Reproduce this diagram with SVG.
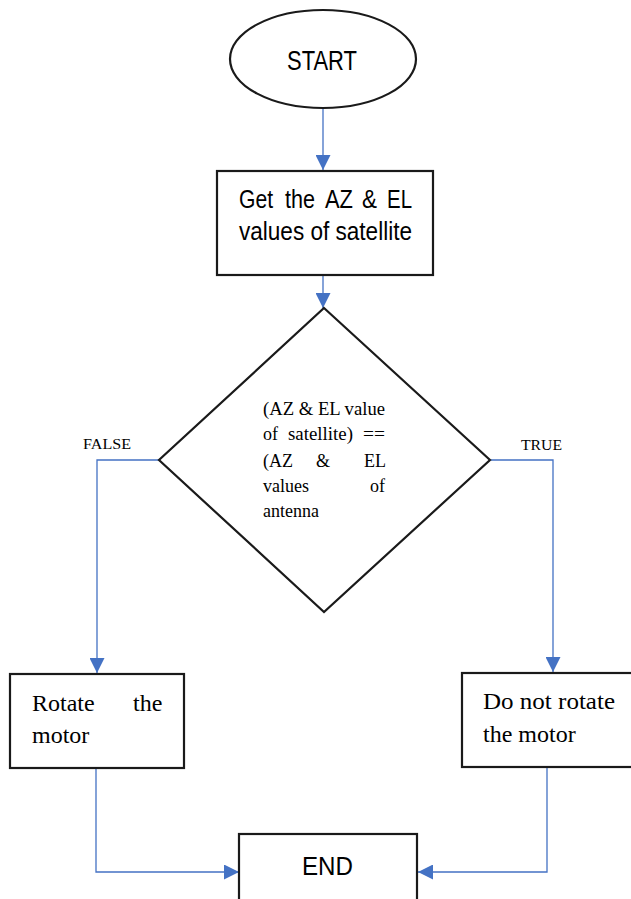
<svg xmlns="http://www.w3.org/2000/svg" width="631" height="899" viewBox="0 0 631 899">
<style>
.shape{fill:#fff;stroke:#1a1a1a;stroke-width:2.2}
.conn{fill:none;stroke:#4472C4;stroke-width:1.3}
.sans{font-family:"Liberation Sans",Arial,sans-serif;fill:#000}
.serif{font-family:"Liberation Serif","Times New Roman",serif;fill:#000}
</style>
<defs>
<marker id="ah" viewBox="0 0 10 10" refX="10" refY="5" markerWidth="15" markerHeight="15" markerUnits="userSpaceOnUse" orient="auto">
<path d="M0,0 L10,5 L0,10 Z" fill="#4472C4"/>
</marker>
</defs>
<rect width="631" height="899" fill="#fff"/>
<g id="connectors">
<line class="conn" x1="323" y1="108" x2="323" y2="170" marker-end="url(#ah)"/>
<line class="conn" x1="323" y1="276" x2="323" y2="308" marker-end="url(#ah)"/>
<polyline class="conn" points="159,460 97,460 97,673" marker-end="url(#ah)"/>
<polyline class="conn" points="491,460 553,460 553,672" marker-end="url(#ah)"/>
<polyline class="conn" points="96,769 96,872 239,872" marker-end="url(#ah)"/>
<polyline class="conn" points="547,768 547,872 418,872" marker-end="url(#ah)"/>
<text class="serif" x="83" y="449" font-size="15" textLength="48" lengthAdjust="spacingAndGlyphs">FALSE</text>
<text class="serif" x="521" y="450" font-size="15" textLength="41" lengthAdjust="spacingAndGlyphs">TRUE</text>
</g>
<g id="start">
<ellipse class="shape" cx="323" cy="59" rx="93" ry="49"/>
<text class="sans" x="287" y="70" font-size="27" textLength="70" lengthAdjust="spacingAndGlyphs">START</text>
</g>
<g id="get-values">
<rect class="shape" x="217" y="171" width="216" height="104"/>
<text class="sans" font-size="25" y="208">
<tspan x="239" textLength="34" lengthAdjust="spacingAndGlyphs">Get</tspan>
<tspan x="285" textLength="30" lengthAdjust="spacingAndGlyphs">the</tspan>
<tspan x="325" textLength="28" lengthAdjust="spacingAndGlyphs">AZ</tspan>
<tspan x="362" textLength="15" lengthAdjust="spacingAndGlyphs">&amp;</tspan>
<tspan x="387" textLength="25" lengthAdjust="spacingAndGlyphs">EL</tspan>
</text>
<text class="sans" x="239" y="240" font-size="25" textLength="173" lengthAdjust="spacingAndGlyphs">values of satellite</text>
</g>
<g id="decision">
<polygon class="shape" points="324,308 490,460 324,612 159,460"/>
<text class="serif" font-size="18" x="263" y="415" textLength="122" lengthAdjust="spacingAndGlyphs">(AZ &amp; EL value</text>
<text class="serif" font-size="18" y="440">
<tspan x="263">of</tspan>
<tspan x="288" textLength="65" lengthAdjust="spacingAndGlyphs">satellite)</tspan>
<tspan x="363" textLength="22" lengthAdjust="spacingAndGlyphs">==</tspan>
</text>
<text class="serif" font-size="18" y="467">
<tspan x="263">(AZ</tspan>
<tspan x="316">&amp;</tspan>
<tspan x="364">EL</tspan>
</text>
<text class="serif" font-size="18" y="492">
<tspan x="263">values</tspan>
<tspan x="370">of</tspan>
</text>
<text class="serif" font-size="18" x="263" y="517">antenna</text>
</g>
<g id="rotate">
<rect class="shape" x="10" y="674" width="174" height="94"/>
<text class="serif" font-size="24" y="711">
<tspan x="32">Rotate</tspan>
<tspan x="133">the</tspan>
</text>
<text class="serif" font-size="24" x="32" y="743">motor</text>
</g>
<g id="no-rotate">
<rect class="shape" x="462" y="673" width="180" height="94"/>
<text class="serif" font-size="24" x="483" y="709" textLength="132" lengthAdjust="spacingAndGlyphs">Do not rotate</text>
<text class="serif" font-size="24" x="483" y="742">the motor</text>
</g>
<g id="end">
<rect class="shape" x="239" y="834" width="178" height="80"/>
<text class="sans" x="302" y="875" font-size="26" textLength="51" lengthAdjust="spacingAndGlyphs">END</text>
</g>
</svg>
